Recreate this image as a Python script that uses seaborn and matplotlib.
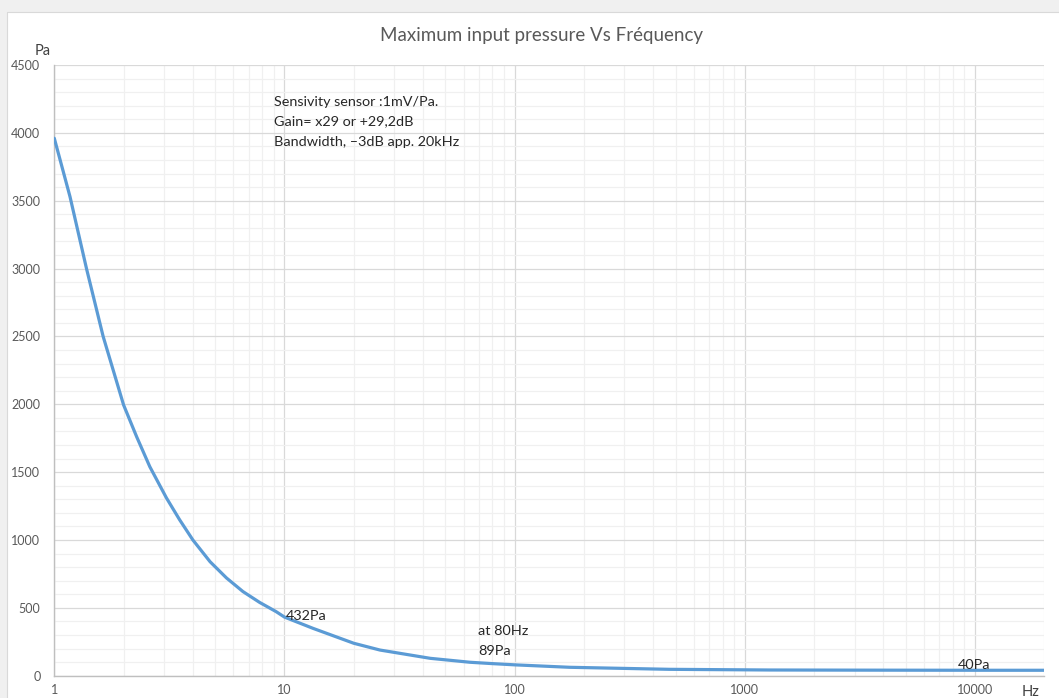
import numpy as np
import pandas as pd
import matplotlib
matplotlib.use("Agg")
import matplotlib.pyplot as plt
import seaborn as sns
from matplotlib.ticker import FixedLocator, NullFormatter, MultipleLocator, FuncFormatter, LogLocator
from matplotlib.patches import Rectangle

# ---- data ----
freq_hz = [1, 1.17, 1.38, 1.63, 2.0, 2.28, 2.6, 3.07, 3.5, 4.0, 4.75, 5.6, 6.6, 7.8, 9.2,
           10, 13.3, 20, 26, 43, 64, 80, 100, 173, 470, 1280, 3000, 10000, 20000]
pressure_pa = [3960, 3530, 3000, 2500, 1995, 1760, 1540, 1310, 1150, 1000, 840, 720, 620, 540,
               472, 432, 349, 239, 189, 128, 99, 89, 80, 62, 47, 42, 41, 40, 40]
x_ticks = [1, 10, 100, 1000, 10000]
y_ticks = list(range(0, 4501, 500))

title = "Maximum input pressure Vs Fréquency"
note_lines = ["Sensivity sensor :1mV/Pa.", "Gain= x29 or +29,2dB", "Bandwidth, \u20133dB app. 20kHz"]

W, H = 1059, 698
sns.set_theme(style="white")
plt.rcParams['font.family'] = ['Lato', 'DejaVu Sans']

fig = plt.figure(figsize=(W / 100, H / 100), dpi=100)
fig.patch.set_facecolor("white")

def fx(px):
    return px / W

def fy(py):
    return 1 - py / H

# outer frame / background strips like the Excel chart area
fig.patches.append(Rectangle((0, fy(12)), 1, 12 / H, transform=fig.transFigure,
                             facecolor="#f0f0f0", edgecolor="none", zorder=0))
fig.patches.append(Rectangle((0, 0), 7 / W, 1, transform=fig.transFigure,
                             facecolor="#f0f0f0", edgecolor="none", zorder=0))
fig.lines.append(plt.Line2D([fx(7), 1], [fy(12), fy(12)], transform=fig.transFigure,
                            color="#d9d9d9", lw=0.8))
fig.lines.append(plt.Line2D([fx(7), fx(7)], [0, fy(12)], transform=fig.transFigure,
                            color="#d9d9d9", lw=0.8))

ax = fig.add_axes([fx(54.3), fy(675.7), fx(1044.3) - fx(54.3), fy(65) - fy(675.7)])
df = pd.DataFrame({"Hz": freq_hz, "Pa": pressure_pa})
sns.lineplot(data=df, x="Hz", y="Pa", ax=ax, color="#5B9BD5", linewidth=2.3, zorder=3)

ax.set_xscale("log")
ax.set_xlim(1, 20000)
ax.set_ylim(0, 4500)
ax.set_xlabel("")
ax.set_ylabel("")

ax.xaxis.set_major_locator(FixedLocator(x_ticks))
ax.xaxis.set_major_formatter(FuncFormatter(lambda v, p: f"{int(round(v))}"))
ax.xaxis.set_minor_locator(LogLocator(base=10, subs=range(2, 10), numticks=20))
ax.xaxis.set_minor_formatter(NullFormatter())
ax.yaxis.set_major_locator(FixedLocator(y_ticks))
ax.yaxis.set_major_formatter(FuncFormatter(lambda v, p: f"{int(v)}"))
ax.yaxis.set_minor_locator(MultipleLocator(100))

ax.grid(True, which="major", color="#d9d9d9", linewidth=0.9)
ax.grid(True, which="minor", color="#f0f0f0", linewidth=0.9)
ax.set_axisbelow(True)

for s in ["top", "right"]:
    ax.spines[s].set_visible(False)
for s in ["left", "bottom"]:
    ax.spines[s].set_color("#bfbfbf")
    ax.spines[s].set_linewidth(1.0)

ax.tick_params(axis="both", which="both", length=0, colors="#595959", labelsize=9)
ax.tick_params(axis="x", pad=6)
ax.tick_params(axis="y", pad=10)

# title and axis titles
fig.text(fx(541), fy(35), title, ha="center", va="center", fontsize=13.5,
         color="#595959")
fig.text(fx(43), fy(51), "Pa", ha="center", va="center", fontsize=10.5, color="#404040")
fig.text(fx(1031), fy(692), "Hz", ha="center", va="center", fontsize=10.5, color="#404040")

# annotations
fs = 10.4
for i, line in enumerate(note_lines):
    fig.text(fx(274), fy(101.5 + 20 * i), line, ha="left", va="center", fontsize=fs,
             color="#262626")
fig.text(fx(286), fy(616), "432Pa", ha="left", va="center", fontsize=fs, color="#262626")
fig.text(fx(478), fy(631), "at 80Hz", ha="left", va="center", fontsize=fs, color="#262626")
fig.text(fx(478), fy(651), "89Pa", ha="left", va="center", fontsize=fs, color="#262626")
fig.text(fx(958), fy(665), "40Pa", ha="left", va="center", fontsize=fs, color="#262626")

fig.savefig("out.png", dpi=100)
